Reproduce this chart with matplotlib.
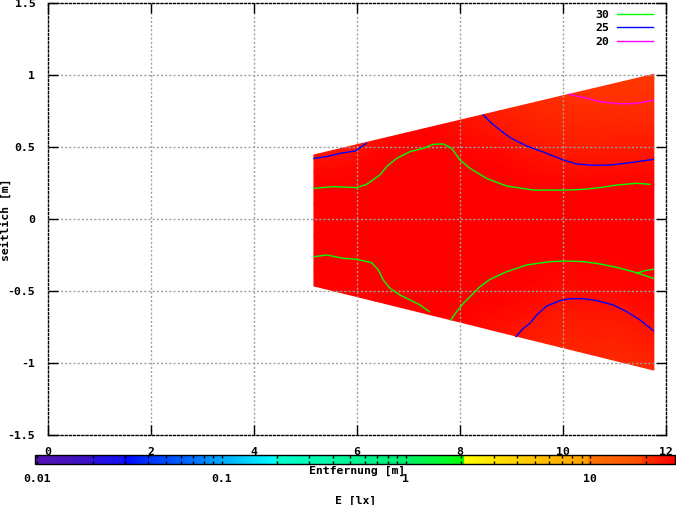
import matplotlib
matplotlib.use('Agg')
import matplotlib.pyplot as plt
import numpy as np
from matplotlib.colors import LinearSegmentedColormap, LogNorm
from matplotlib.cm import ScalarMappable

# ---------------- data ----------------
x_ticks = [0, 2, 4, 6, 8, 10, 12]
x_tick_labels = ['0', '2', '4', '6', '8', '10', '12']
y_ticks = [-1.5, -1, -0.5, 0, 0.5, 1, 1.5]
y_tick_labels = ['-1.5', '-1', '-0.5', '0', '0.5', '1', '1.5']
cb_ticks = [0.01, 0.1, 1, 10]
cb_tick_labels = ['0.01', '0.1', '1', '10']
cb_min, cb_max = 0.00975, 28.9

# surface: columns along the road, lateral fraction rows (bottom -> top)
col_x = [5.17, 5.77, 6.37, 6.97, 7.57, 8.17, 8.77, 9.37, 9.97, 10.57, 11.17, 11.77]
col_top = [0.447, 0.498, 0.549, 0.600, 0.651, 0.702, 0.753, 0.804, 0.855, 0.905, 0.956, 1.007]
col_bot = [-0.463, -0.516, -0.569, -0.622, -0.675, -0.728, -0.782, -0.835, -0.888, -0.941, -0.994, -1.047]
row_frac = [0.0, 0.125, 0.25, 0.375, 0.5, 0.625, 0.75, 0.875, 1.0]
E_lux = [
    [28.0, 28.5, 28.5, 29.0, 30.3, 28.0, 25.5, 23.5, 22.5, 22.0, 21.5, 21.5],
    [29.0, 29.5, 29.5, 30.5, 31.5, 30.0, 28.0, 26.0, 24.0, 24.0, 23.5, 25.0],
    [30.5, 30.0, 30.8, 32.0, 33.0, 32.0, 30.0, 28.5, 27.0, 27.5, 27.0, 28.0],
    [33.0, 32.0, 33.0, 33.5, 34.0, 33.5, 32.0, 31.0, 30.8, 30.5, 30.5, 31.5],
    [34.0, 33.5, 34.0, 34.0, 35.0, 34.0, 33.0, 32.5, 32.5, 32.5, 32.0, 32.0],
    [33.0, 32.0, 33.0, 34.0, 35.0, 33.0, 31.0, 30.2, 30.0, 30.0, 29.7, 30.0],
    [30.0, 29.7, 30.5, 32.0, 33.5, 30.2, 28.5, 26.5, 25.0, 24.5, 24.5, 24.0],
    [27.5, 27.0, 28.5, 30.3, 30.5, 27.5, 25.7, 23.5, 22.5, 21.5, 21.5, 21.0],
    [25.0, 24.7, 26.5, 28.5, 28.0, 25.5, 23.0, 21.5, 20.5, 20.0, 19.7, 19.5],
]

# contour lines (isolux)
green_1_x = [5.171, 5.546, 5.999, 6.193, 6.452, 6.582, 6.776, 7.035, 7.294, 7.488, 7.682, 7.844, 8.006, 8.200, 8.524, 8.912, 9.430, 10.077, 10.40, 10.724, 11.048, 11.436, 11.695]
green_1_y = [0.215, 0.227, 0.220, 0.243, 0.308, 0.366, 0.423, 0.470, 0.493, 0.521, 0.523, 0.493, 0.412, 0.354, 0.284, 0.231, 0.203, 0.203, 0.208, 0.220, 0.238, 0.250, 0.243]
green_2_x = [5.171, 5.417, 5.740, 5.999, 6.291, 6.420, 6.517, 6.647, 6.841, 7.035, 7.229, 7.410]
green_2_y = [-0.260, -0.248, -0.271, -0.278, -0.301, -0.352, -0.422, -0.479, -0.526, -0.560, -0.595, -0.641]
green_3_x = [7.825, 7.941, 8.071, 8.232, 8.394, 8.588, 8.912, 9.300, 9.753, 10.077, 10.40, 10.724, 11.048, 11.371, 11.760]
green_3_y = [-0.699, -0.641, -0.584, -0.526, -0.468, -0.417, -0.364, -0.317, -0.294, -0.290, -0.294, -0.310, -0.334, -0.364, -0.410]
green_4_x = [11.43, 11.60, 11.76]
green_4_y = [-0.375, -0.356, -0.347]

blue_1_x = [5.171, 5.417, 5.676, 5.967, 6.096, 6.193]
blue_1_y = [0.423, 0.435, 0.458, 0.474, 0.504, 0.528]
blue_2_x = [8.459, 8.621, 8.783, 8.977, 9.300, 9.689, 10.012, 10.271, 10.595, 10.918, 11.307, 11.760]
blue_2_y = [0.724, 0.666, 0.620, 0.567, 0.509, 0.458, 0.412, 0.384, 0.375, 0.377, 0.393, 0.416]
blue_3_x = [9.093, 9.236, 9.365, 9.494, 9.689, 9.948, 10.142, 10.40, 10.659, 10.983, 11.242, 11.501, 11.663, 11.760]
blue_3_y = [-0.815, -0.757, -0.722, -0.665, -0.602, -0.565, -0.551, -0.551, -0.565, -0.595, -0.641, -0.699, -0.746, -0.773]

magenta_1_x = [10.129, 10.271, 10.530, 10.724, 11.048, 11.371, 11.630, 11.760]
magenta_1_y = [0.868, 0.856, 0.835, 0.817, 0.803, 0.803, 0.817, 0.828]

legend_labels = ['30', '25', '20']

# palette (pixel position along colour box -> colour)
pal_px = [35.3, 91, 92, 123, 124, 146, 165, 190, 220, 275, 276, 306, 340, 403, 458, 464, 465,
          490, 515, 547, 588, 589, 642, 643, 675]
pal_col = ['#5414b0', '#3c12c8', '#2a10e0', '#1810f4', '#0000ff', '#0030ff', '#0048ff', '#0068ff',
           '#00a8ff', '#00ffff', '#00ffd0', '#00ffb8', '#00f8a0', '#00f070', '#00ff10', '#00ff00',
           '#ffff00', '#ffe800', '#ffd400', '#ffbc00', '#ffa000', '#ff7400', '#ff4c00', '#ff3800',
           '#ff0000']

# ---------------- style ----------------
plt.rcParams['font.family'] = ['DejaVu Sans Mono', 'DejaVu Sans']
plt.rcParams['font.weight'] = 'bold'
plt.rcParams['font.size'] = 8.25

W, H = 676, 505
fig = plt.figure(figsize=(W / 100, H / 100), dpi=100)

L, R, T, B = 47.7, 665.7, 3.3, 435.3
ax = fig.add_axes([L / W, 1 - B / H, (R - L) / W, (B - T) / H])

f = [(p - pal_px[0]) / (pal_px[-1] - pal_px[0]) for p in pal_px]
cmap = LinearSegmentedColormap.from_list('gp', list(zip(f, pal_col)), N=1024)
norm = LogNorm(vmin=cb_min, vmax=cb_max)

cx = np.array(col_x)
ct = np.array(col_top)
cbm = np.array(col_bot)
rf = np.array(row_frac)
X = np.tile(cx, (len(rf), 1))
Y = cbm[None, :] + rf[:, None] * (ct - cbm)[None, :]
ax.pcolormesh(X, Y, np.array(E_lux), cmap=cmap, norm=norm, shading='gouraud', zorder=1)

lw = 1.0
h30, = ax.plot(green_1_x, green_1_y, color='#00ff00', lw=lw, zorder=3, label=legend_labels[0])
for xs, ys in [(green_2_x, green_2_y), (green_3_x, green_3_y), (green_4_x, green_4_y)]:
    ax.plot(xs, ys, color='#00ff00', lw=lw, zorder=3)
h25, = ax.plot(blue_1_x, blue_1_y, color='#0000ff', lw=lw, zorder=3, label=legend_labels[1])
for xs, ys in [(blue_2_x, blue_2_y), (blue_3_x, blue_3_y)]:
    ax.plot(xs, ys, color='#0000ff', lw=lw, zorder=3)
h20, = ax.plot(magenta_1_x, magenta_1_y, color='#ff00ff', lw=lw, zorder=3, label=legend_labels[2])

ax.set_xlim(0, 12)
ax.set_ylim(-1.5, 1.5)
ax.set_xticks(x_ticks)
ax.set_xticklabels(x_tick_labels)
ax.set_yticks(y_ticks)
ax.set_yticklabels(y_tick_labels)
ax.tick_params(direction='in', length=7, width=1, top=True, right=True, colors='black')
ax.tick_params(axis='x', pad=8.5)
ax.tick_params(axis='y', pad=9)

ax.set_axisbelow(False)
ax.grid(True, color='#a0a0a0', linestyle=(0, (1.5, 1.5)), linewidth=1)
xg = ax.xaxis.get_gridlines()
yg = ax.yaxis.get_gridlines()
for g in (xg[0], xg[-1], yg[0], yg[-1]):
    g.set_visible(False)
for s in ax.spines.values():
    s.set_linestyle((0, (1.5, 1.5)))
    s.set_linewidth(1)
    s.set_color('black')

leg = ax.legend(handles=[h30, h25, h20], loc='upper right', markerfirst=False, frameon=False,
                bbox_to_anchor=(653 / W, 1 - 9.5 / H), bbox_transform=fig.transFigure,
                borderpad=0, borderaxespad=0, handlelength=3.1, handletextpad=0.75,
                labelspacing=0.32, fontsize=8.25)

# colour box
cL, cR, cT, cB = 35.3, 675.0, 455.0, 464.3
cax = fig.add_axes([cL / W, 1 - cB / H, (cR - cL) / W, (cB - cT) / H])
cb = fig.colorbar(ScalarMappable(norm=norm, cmap=cmap), cax=cax, orientation='horizontal')
cb.set_ticks(cb_ticks)
cb.set_ticklabels(cb_tick_labels)
cb.outline.set_linewidth(1)
cb.outline.set_edgecolor('black')
cax.tick_params(which='both', direction='in', top=True, bottom=True, length=2.2, width=1,
                colors='black', pad=7, labelsize=8.25)

fig.text(356.7 / W, 1 - 470.5 / H, 'Entfernung [m]', ha='center', va='center', fontsize=8.25,
         fontweight='bold', zorder=10)
fig.text(355.5 / W, 1 - 501 / H, 'E [lx]', ha='center', va='center', fontsize=8.25, fontweight='bold')
fig.text(6 / W, 1 - 219.3 / H, 'seitlich [m]', ha='center', va='center', rotation=90,
         fontsize=8.25, fontweight='bold')

fig.savefig('out.png', dpi=100)
